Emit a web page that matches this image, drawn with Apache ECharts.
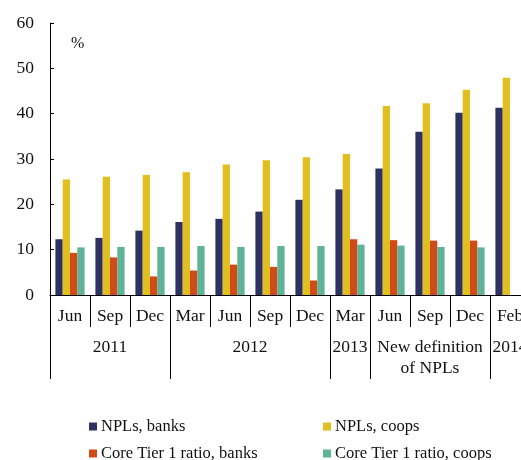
<!DOCTYPE html>
<html><head><meta charset="utf-8">
<script src="https://cdn.jsdelivr.net/npm/echarts@6/dist/echarts.min.js"></script>
<style>html,body{margin:0;padding:0;width:521px;height:460px;overflow:hidden;background:#fff}#c{width:540px;height:460px}</style>
</head><body><div id="c"></div><script>
const months = ['Jun','Sep','Dec','Mar','Jun','Sep','Dec','Mar','Jun','Sep','Dec','Feb'];
const yearLabels = ['2011','2012','2013','New definition\nof NPLs','2014'];
const yearSpans = [3,4,1,3,1];
const seriesNames = ['NPLs, banks','NPLs, coops','Core Tier 1 ratio, banks','Core Tier 1 ratio, coops'];
const nplBanks = [12.3,12.6,14.2,16.1,16.8,18.4,21.0,23.3,27.9,36.0,40.2,41.3];
const nplCoops = [25.5,26.1,26.5,27.1,28.8,29.7,30.4,31.1,41.7,42.3,45.3,47.9];
const ct1Banks = [9.3,8.3,4.1,5.4,6.7,6.2,3.2,12.3,12.1,12.0,12.0,null];
const ct1Coops = [10.5,10.6,10.6,10.8,10.6,10.8,10.8,11.1,10.9,10.6,10.5,null];
const yMin = 0, yMax = 60, yStep = 10;
const unitLabel = '%';

const colors = ['#2e3263','#e2bf21','#d04b18','#5fb396'];
const FONT = "'Liberation Serif', 'DejaVu Serif', serif";

// year axis on half-category slots
const yearSlots = new Array(months.length * 2 + 1).fill('');
const sepSet = new Set([0]);
let start = 0;
yearSpans.forEach((s, i) => {
  yearSlots[2 * start + s] = yearLabels[i];
  start += s;
  sepSet.add(2 * start);
});

const chart = echarts.init(document.getElementById('c'), null, {renderer: 'canvas'});
const allData = [nplBanks, nplCoops, ct1Banks, ct1Coops];
chart.setOption({
  animation: false,
  color: colors,
  title: {
    text: unitLabel, left: 66, top: 31,
    textStyle: {fontFamily: FONT, fontSize: 16, fontWeight: 'normal', color: '#111'}
  },
  grid: {left: 50, right: 10, top: 23, bottom: 165, containLabel: false},
  legend: {
    data: seriesNames, left: 89, top: 418, width: 520,
    orient: 'horizontal', icon: 'rect', itemWidth: 8, itemHeight: 8,
    itemGap: 10, padding: 0,
    textStyle: {fontFamily: FONT, fontSize: 16.5, color: '#111', width: 212, lineHeight: 16, padding: [0,0,0,-1]}
  },
  xAxis: [{
    type: 'category', data: months, position: 'bottom',
    axisLine: {lineStyle: {color: '#000', width: 1}},
    axisTick: {show: true, interval: 0, length: 32, lineStyle: {color: '#000'}},
    axisLabel: {interval: 0, margin: 11, fontFamily: FONT, fontSize: 17.5, color: '#111', lineHeight: 21}
  }, {
    type: 'category', data: yearSlots, position: 'bottom', boundaryGap: false,
    axisLine: {show: false},
    axisTick: {show: true, interval: (i) => sepSet.has(i), length: 84, lineStyle: {color: '#000'}},
    axisLabel: {interval: 0, margin: 42, fontFamily: FONT, fontSize: 17.5, color: '#111', lineHeight: 21, align: 'center'}
  }],
  yAxis: {
    type: 'value', min: yMin, max: yMax, interval: yStep,
    splitLine: {show: false},
    axisLine: {show: true, lineStyle: {color: '#000'}},
    axisTick: {show: true, inside: true, length: 4, lineStyle: {color: '#000'}},
    axisLabel: {margin: 16, fontFamily: FONT, fontSize: 17.5, color: '#111'}
  },
  series: seriesNames.map((n, i) => ({
    name: n, type: 'bar', xAxisIndex: 0, data: allData[i],
    barGap: '0%', barCategoryGap: '27%'
  }))
});
</script></body></html>
